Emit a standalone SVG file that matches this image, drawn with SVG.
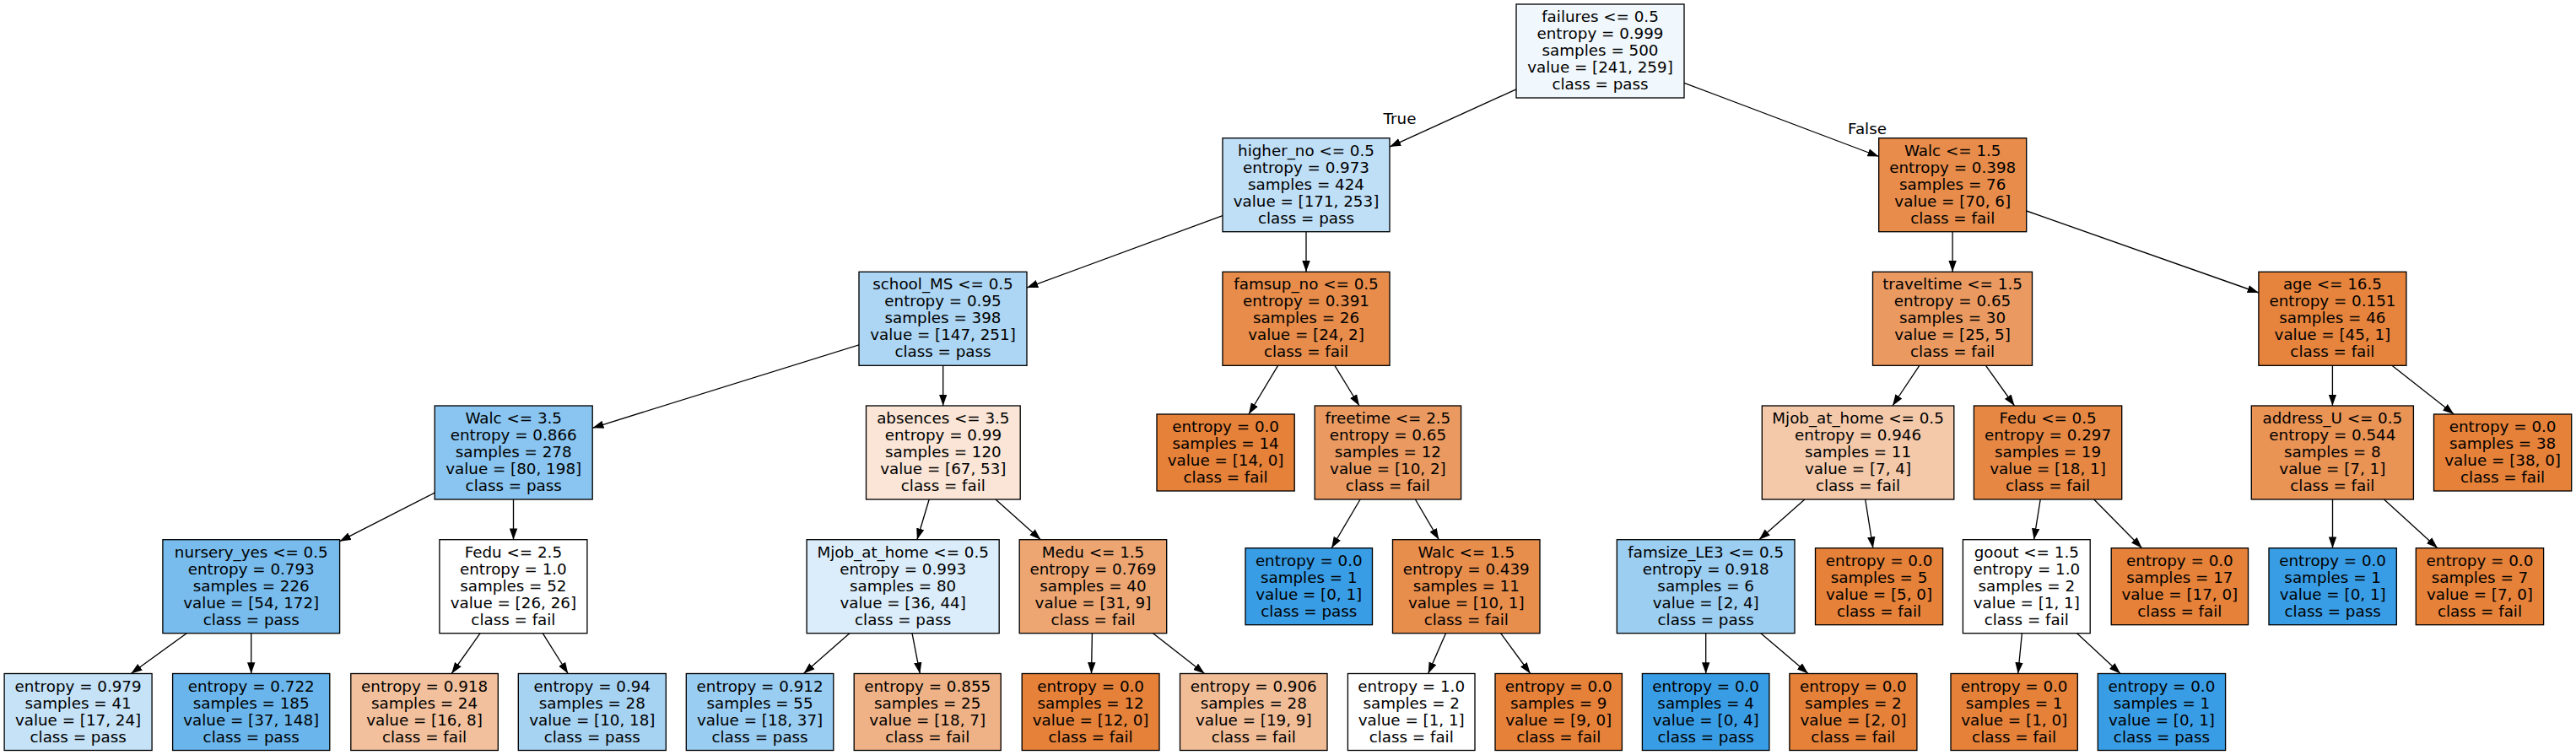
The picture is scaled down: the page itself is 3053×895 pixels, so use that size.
<svg xmlns="http://www.w3.org/2000/svg" width="3053" height="895" viewBox="0 0 3053 895">
<style>
rect{stroke:#000;stroke-width:1.33}
text{font-family:"DejaVu Sans","Liberation Sans",sans-serif;font-size:18.3px;text-anchor:middle;fill:#000}
.e line{stroke:#000;stroke-width:1.33;marker-end:url(#arr)}
</style>
<defs>
<marker id="arr" markerUnits="userSpaceOnUse" markerWidth="14" markerHeight="10" viewBox="0 -5 14 10" refX="13.3" refY="0" orient="auto"><path d="M0,-4.7 L13.3,0 L0,4.7 z" fill="#000"/></marker>
</defs>
<rect x="0" y="0" width="3053" height="895" fill="#fff" style="stroke:none"/>
<g class="e" id="edges">
<line x1="1797" y1="105.8" x2="1647" y2="174.1"/>
<line x1="1996" y1="98.3" x2="2226.7" y2="185.5"/>
<line x1="1449" y1="255.7" x2="1217" y2="341.1"/>
<line x1="1548" y1="274.7" x2="1548" y2="322.3"/>
<line x1="1018.1" y1="408.8" x2="702.2" y2="507.3"/>
<line x1="1117.7" y1="433.3" x2="1117.7" y2="481"/>
<line x1="515.2" y1="584.2" x2="402.6" y2="641.7"/>
<line x1="608.5" y1="592" x2="608.5" y2="639.7"/>
<line x1="221.2" y1="750.7" x2="155.3" y2="798.5"/>
<line x1="297.7" y1="750.7" x2="297.7" y2="798.5"/>
<line x1="569.1" y1="750.7" x2="535.2" y2="798.5"/>
<line x1="643.2" y1="750.7" x2="673.2" y2="798.5"/>
<line x1="1101.2" y1="592" x2="1086.9" y2="639.7"/>
<line x1="1180" y1="592" x2="1233.4" y2="639.7"/>
<line x1="1006.9" y1="750.7" x2="952.4" y2="798.5"/>
<line x1="1081" y1="750.7" x2="1090.3" y2="798.5"/>
<line x1="1294.4" y1="750.7" x2="1293.5" y2="798.5"/>
<line x1="1366.5" y1="750.7" x2="1427.6" y2="798.5"/>
<line x1="1514.6" y1="433.3" x2="1480" y2="491"/>
<line x1="1581.9" y1="433.3" x2="1611" y2="481"/>
<line x1="1612.1" y1="592" x2="1578.1" y2="649.7"/>
<line x1="1677.4" y1="592" x2="1705.3" y2="639.7"/>
<line x1="1713.5" y1="750.7" x2="1692.6" y2="798.5"/>
<line x1="1778.6" y1="750.7" x2="1813.7" y2="798.5"/>
<line x1="2314.1" y1="274.7" x2="2314.1" y2="322.3"/>
<line x1="2401.7" y1="250" x2="2676.9" y2="347"/>
<line x1="2274.8" y1="433.3" x2="2243" y2="481"/>
<line x1="2353.5" y1="433.3" x2="2387.5" y2="481"/>
<line x1="2138.9" y1="592" x2="2084.8" y2="639.7"/>
<line x1="2210.7" y1="592" x2="2219.8" y2="649.7"/>
<line x1="2021.7" y1="750.7" x2="2021.7" y2="798.5"/>
<line x1="2086.9" y1="750.7" x2="2143" y2="798.5"/>
<line x1="2418.2" y1="592" x2="2410.6" y2="639.7"/>
<line x1="2481.7" y1="592" x2="2538.6" y2="649.7"/>
<line x1="2396.4" y1="750.7" x2="2391.7" y2="798.5"/>
<line x1="2461.6" y1="750.7" x2="2513" y2="798.5"/>
<line x1="2764.4" y1="433.3" x2="2764.4" y2="481"/>
<line x1="2834.9" y1="433.3" x2="2908.3" y2="491"/>
<line x1="2764.5" y1="592" x2="2764.5" y2="649.7"/>
<line x1="2825.5" y1="592" x2="2888.9" y2="649.7"/>
<text x="1659" y="147">True</text>
<text x="2213" y="159">False</text>
</g>
<g id="n0"><rect x="1797" y="5" width="199" height="111" fill="#f1f8fd"/><text y="26"><tspan x="1896.5">failures &lt;= 0.5</tspan><tspan x="1896.5" dy="20">entropy = 0.999</tspan><tspan x="1896.5" dy="20">samples = 500</tspan><tspan x="1896.5" dy="20">value = [241, 259]</tspan><tspan x="1896.5" dy="20">class = pass</tspan></text></g>
<g id="n1"><rect x="1449" y="163.7" width="198" height="111" fill="#bfdff7"/><text y="184.7"><tspan x="1548">higher_no &lt;= 0.5</tspan><tspan x="1548" dy="20">entropy = 0.973</tspan><tspan x="1548" dy="20">samples = 424</tspan><tspan x="1548" dy="20">value = [171, 253]</tspan><tspan x="1548" dy="20">class = pass</tspan></text></g>
<g id="n2"><rect x="1018" y="322.3" width="199" height="111" fill="#add6f4"/><text y="343.3"><tspan x="1117.5">school_MS &lt;= 0.5</tspan><tspan x="1117.5" dy="20">entropy = 0.95</tspan><tspan x="1117.5" dy="20">samples = 398</tspan><tspan x="1117.5" dy="20">value = [147, 251]</tspan><tspan x="1117.5" dy="20">class = pass</tspan></text></g>
<g id="n3"><rect x="515.2" y="481" width="187" height="111" fill="#89c5f0"/><text y="502"><tspan x="608.7">Walc &lt;= 3.5</tspan><tspan x="608.7" dy="20">entropy = 0.866</tspan><tspan x="608.7" dy="20">samples = 278</tspan><tspan x="608.7" dy="20">value = [80, 198]</tspan><tspan x="608.7" dy="20">class = pass</tspan></text></g>
<g id="n4"><rect x="192.9" y="639.7" width="209.7" height="111" fill="#77bced"/><text y="660.7"><tspan x="297.75">nursery_yes &lt;= 0.5</tspan><tspan x="297.75" dy="20">entropy = 0.793</tspan><tspan x="297.75" dy="20">samples = 226</tspan><tspan x="297.75" dy="20">value = [54, 172]</tspan><tspan x="297.75" dy="20">class = pass</tspan></text></g>
<g id="n5"><rect x="5.1" y="798.5" width="175" height="91" fill="#c5e2f7"/><text y="819.5"><tspan x="92.6">entropy = 0.979</tspan><tspan x="92.6" dy="20">samples = 41</tspan><tspan x="92.6" dy="20">value = [17, 24]</tspan><tspan x="92.6" dy="20">class = pass</tspan></text></g>
<g id="n6"><rect x="204.6" y="798.5" width="186.2" height="91" fill="#6ab6ec"/><text y="819.5"><tspan x="297.7">entropy = 0.722</tspan><tspan x="297.7" dy="20">samples = 185</tspan><tspan x="297.7" dy="20">value = [37, 148]</tspan><tspan x="297.7" dy="20">class = pass</tspan></text></g>
<g id="n7"><rect x="520.9" y="639.7" width="175" height="111" fill="#ffffff"/><text y="660.7"><tspan x="608.4">Fedu &lt;= 2.5</tspan><tspan x="608.4" dy="20">entropy = 1.0</tspan><tspan x="608.4" dy="20">samples = 52</tspan><tspan x="608.4" dy="20">value = [26, 26]</tspan><tspan x="608.4" dy="20">class = fail</tspan></text></g>
<g id="n8"><rect x="415.8" y="798.5" width="174.5" height="91" fill="#f2c09c"/><text y="819.5"><tspan x="503.05">entropy = 0.918</tspan><tspan x="503.05" dy="20">samples = 24</tspan><tspan x="503.05" dy="20">value = [16, 8]</tspan><tspan x="503.05" dy="20">class = fail</tspan></text></g>
<g id="n9"><rect x="614.3" y="798.5" width="175" height="91" fill="#a7d3f3"/><text y="819.5"><tspan x="701.8">entropy = 0.94</tspan><tspan x="701.8" dy="20">samples = 28</tspan><tspan x="701.8" dy="20">value = [10, 18]</tspan><tspan x="701.8" dy="20">class = pass</tspan></text></g>
<g id="n10"><rect x="1026.5" y="481" width="182.7" height="111" fill="#fae5d6"/><text y="502"><tspan x="1117.85">absences &lt;= 3.5</tspan><tspan x="1117.85" dy="20">entropy = 0.99</tspan><tspan x="1117.85" dy="20">samples = 120</tspan><tspan x="1117.85" dy="20">value = [67, 53]</tspan><tspan x="1117.85" dy="20">class = fail</tspan></text></g>
<g id="n11"><rect x="956.1" y="639.7" width="228.1" height="111" fill="#dbedfa"/><text y="660.7"><tspan x="1070.15">Mjob_at_home &lt;= 0.5</tspan><tspan x="1070.15" dy="20">entropy = 0.993</tspan><tspan x="1070.15" dy="20">samples = 80</tspan><tspan x="1070.15" dy="20">value = [36, 44]</tspan><tspan x="1070.15" dy="20">class = pass</tspan></text></g>
<g id="n12"><rect x="813.3" y="798.5" width="174.5" height="91" fill="#99cdf2"/><text y="819.5"><tspan x="900.55">entropy = 0.912</tspan><tspan x="900.55" dy="20">samples = 55</tspan><tspan x="900.55" dy="20">value = [18, 37]</tspan><tspan x="900.55" dy="20">class = pass</tspan></text></g>
<g id="n13"><rect x="1012.2" y="798.5" width="174" height="91" fill="#efb286"/><text y="819.5"><tspan x="1099.2">entropy = 0.855</tspan><tspan x="1099.2" dy="20">samples = 25</tspan><tspan x="1099.2" dy="20">value = [18, 7]</tspan><tspan x="1099.2" dy="20">class = fail</tspan></text></g>
<g id="n14"><rect x="1208.2" y="639.7" width="174.5" height="111" fill="#eda672"/><text y="660.7"><tspan x="1295.45">Medu &lt;= 1.5</tspan><tspan x="1295.45" dy="20">entropy = 0.769</tspan><tspan x="1295.45" dy="20">samples = 40</tspan><tspan x="1295.45" dy="20">value = [31, 9]</tspan><tspan x="1295.45" dy="20">class = fail</tspan></text></g>
<g id="n15"><rect x="1211.2" y="798.5" width="162.8" height="91" fill="#e58139"/><text y="819.5"><tspan x="1292.6">entropy = 0.0</tspan><tspan x="1292.6" dy="20">samples = 12</tspan><tspan x="1292.6" dy="20">value = [12, 0]</tspan><tspan x="1292.6" dy="20">class = fail</tspan></text></g>
<g id="n16"><rect x="1398.5" y="798.5" width="174.5" height="91" fill="#f1bd97"/><text y="819.5"><tspan x="1485.75">entropy = 0.906</tspan><tspan x="1485.75" dy="20">samples = 28</tspan><tspan x="1485.75" dy="20">value = [19, 9]</tspan><tspan x="1485.75" dy="20">class = fail</tspan></text></g>
<g id="n17"><rect x="1449" y="322.3" width="198" height="111" fill="#e78c4a"/><text y="343.3"><tspan x="1548">famsup_no &lt;= 0.5</tspan><tspan x="1548" dy="20">entropy = 0.391</tspan><tspan x="1548" dy="20">samples = 26</tspan><tspan x="1548" dy="20">value = [24, 2]</tspan><tspan x="1548" dy="20">class = fail</tspan></text></g>
<g id="n18"><rect x="1371" y="491" width="163.2" height="91" fill="#e58139"/><text y="512"><tspan x="1452.6">entropy = 0.0</tspan><tspan x="1452.6" dy="20">samples = 14</tspan><tspan x="1452.6" dy="20">value = [14, 0]</tspan><tspan x="1452.6" dy="20">class = fail</tspan></text></g>
<g id="n19"><rect x="1558.2" y="481" width="173.4" height="111" fill="#ea9a61"/><text y="502"><tspan x="1644.9">freetime &lt;= 2.5</tspan><tspan x="1644.9" dy="20">entropy = 0.65</tspan><tspan x="1644.9" dy="20">samples = 12</tspan><tspan x="1644.9" dy="20">value = [10, 2]</tspan><tspan x="1644.9" dy="20">class = fail</tspan></text></g>
<g id="n20"><rect x="1476" y="649.7" width="150.5" height="91" fill="#399de5"/><text y="670.7"><tspan x="1551.25">entropy = 0.0</tspan><tspan x="1551.25" dy="20">samples = 1</tspan><tspan x="1551.25" dy="20">value = [0, 1]</tspan><tspan x="1551.25" dy="20">class = pass</tspan></text></g>
<g id="n21"><rect x="1650.5" y="639.7" width="174.5" height="111" fill="#e88e4d"/><text y="660.7"><tspan x="1737.75">Walc &lt;= 1.5</tspan><tspan x="1737.75" dy="20">entropy = 0.439</tspan><tspan x="1737.75" dy="20">samples = 11</tspan><tspan x="1737.75" dy="20">value = [10, 1]</tspan><tspan x="1737.75" dy="20">class = fail</tspan></text></g>
<g id="n22"><rect x="1597.4" y="798.5" width="150.6" height="91" fill="#ffffff"/><text y="819.5"><tspan x="1672.7">entropy = 1.0</tspan><tspan x="1672.7" dy="20">samples = 2</tspan><tspan x="1672.7" dy="20">value = [1, 1]</tspan><tspan x="1672.7" dy="20">class = fail</tspan></text></g>
<g id="n23"><rect x="1772" y="798.5" width="150.4" height="91" fill="#e58139"/><text y="819.5"><tspan x="1847.2">entropy = 0.0</tspan><tspan x="1847.2" dy="20">samples = 9</tspan><tspan x="1847.2" dy="20">value = [9, 0]</tspan><tspan x="1847.2" dy="20">class = fail</tspan></text></g>
<g id="n24"><rect x="2226.7" y="163.7" width="175" height="111" fill="#e78c4a"/><text y="184.7"><tspan x="2314.2">Walc &lt;= 1.5</tspan><tspan x="2314.2" dy="20">entropy = 0.398</tspan><tspan x="2314.2" dy="20">samples = 76</tspan><tspan x="2314.2" dy="20">value = [70, 6]</tspan><tspan x="2314.2" dy="20">class = fail</tspan></text></g>
<g id="n25"><rect x="2219.5" y="322.3" width="189" height="111" fill="#ea9a61"/><text y="343.3"><tspan x="2314">traveltime &lt;= 1.5</tspan><tspan x="2314" dy="20">entropy = 0.65</tspan><tspan x="2314" dy="20">samples = 30</tspan><tspan x="2314" dy="20">value = [25, 5]</tspan><tspan x="2314" dy="20">class = fail</tspan></text></g>
<g id="n26"><rect x="2088.3" y="481" width="227.5" height="111" fill="#f4c9aa"/><text y="502"><tspan x="2202.05">Mjob_at_home &lt;= 0.5</tspan><tspan x="2202.05" dy="20">entropy = 0.946</tspan><tspan x="2202.05" dy="20">samples = 11</tspan><tspan x="2202.05" dy="20">value = [7, 4]</tspan><tspan x="2202.05" dy="20">class = fail</tspan></text></g>
<g id="n27"><rect x="1916.3" y="639.7" width="210.7" height="111" fill="#9ccef2"/><text y="660.7"><tspan x="2021.65">famsize_LE3 &lt;= 0.5</tspan><tspan x="2021.65" dy="20">entropy = 0.918</tspan><tspan x="2021.65" dy="20">samples = 6</tspan><tspan x="2021.65" dy="20">value = [2, 4]</tspan><tspan x="2021.65" dy="20">class = pass</tspan></text></g>
<g id="n28"><rect x="1946.4" y="798.5" width="150.5" height="91" fill="#399de5"/><text y="819.5"><tspan x="2021.65">entropy = 0.0</tspan><tspan x="2021.65" dy="20">samples = 4</tspan><tspan x="2021.65" dy="20">value = [0, 4]</tspan><tspan x="2021.65" dy="20">class = pass</tspan></text></g>
<g id="n29"><rect x="2120.9" y="798.5" width="151" height="91" fill="#e58139"/><text y="819.5"><tspan x="2196.4">entropy = 0.0</tspan><tspan x="2196.4" dy="20">samples = 2</tspan><tspan x="2196.4" dy="20">value = [2, 0]</tspan><tspan x="2196.4" dy="20">class = fail</tspan></text></g>
<g id="n30"><rect x="2151.5" y="649.7" width="151.1" height="91" fill="#e58139"/><text y="670.7"><tspan x="2227.05">entropy = 0.0</tspan><tspan x="2227.05" dy="20">samples = 5</tspan><tspan x="2227.05" dy="20">value = [5, 0]</tspan><tspan x="2227.05" dy="20">class = fail</tspan></text></g>
<g id="n31"><rect x="2339.4" y="481" width="175.3" height="111" fill="#e68844"/><text y="502"><tspan x="2427.05">Fedu &lt;= 0.5</tspan><tspan x="2427.05" dy="20">entropy = 0.297</tspan><tspan x="2427.05" dy="20">samples = 19</tspan><tspan x="2427.05" dy="20">value = [18, 1]</tspan><tspan x="2427.05" dy="20">class = fail</tspan></text></g>
<g id="n32"><rect x="2326.4" y="639.7" width="150.8" height="111" fill="#ffffff"/><text y="660.7"><tspan x="2401.8">goout &lt;= 1.5</tspan><tspan x="2401.8" dy="20">entropy = 1.0</tspan><tspan x="2401.8" dy="20">samples = 2</tspan><tspan x="2401.8" dy="20">value = [1, 1]</tspan><tspan x="2401.8" dy="20">class = fail</tspan></text></g>
<g id="n33"><rect x="2312" y="798.5" width="150.3" height="91" fill="#e58139"/><text y="819.5"><tspan x="2387.15">entropy = 0.0</tspan><tspan x="2387.15" dy="20">samples = 1</tspan><tspan x="2387.15" dy="20">value = [1, 0]</tspan><tspan x="2387.15" dy="20">class = fail</tspan></text></g>
<g id="n34"><rect x="2486.3" y="798.5" width="151.3" height="91" fill="#399de5"/><text y="819.5"><tspan x="2561.95">entropy = 0.0</tspan><tspan x="2561.95" dy="20">samples = 1</tspan><tspan x="2561.95" dy="20">value = [0, 1]</tspan><tspan x="2561.95" dy="20">class = pass</tspan></text></g>
<g id="n35"><rect x="2502.2" y="649.7" width="162.3" height="91" fill="#e58139"/><text y="670.7"><tspan x="2583.35">entropy = 0.0</tspan><tspan x="2583.35" dy="20">samples = 17</tspan><tspan x="2583.35" dy="20">value = [17, 0]</tspan><tspan x="2583.35" dy="20">class = fail</tspan></text></g>
<g id="n36"><rect x="2676.9" y="322.3" width="175" height="111" fill="#e6843d"/><text y="343.3"><tspan x="2764.4">age &lt;= 16.5</tspan><tspan x="2764.4" dy="20">entropy = 0.151</tspan><tspan x="2764.4" dy="20">samples = 46</tspan><tspan x="2764.4" dy="20">value = [45, 1]</tspan><tspan x="2764.4" dy="20">class = fail</tspan></text></g>
<g id="n37"><rect x="2668.3" y="481" width="192.1" height="111" fill="#e99355"/><text y="502"><tspan x="2764.35">address_U &lt;= 0.5</tspan><tspan x="2764.35" dy="20">entropy = 0.544</tspan><tspan x="2764.35" dy="20">samples = 8</tspan><tspan x="2764.35" dy="20">value = [7, 1]</tspan><tspan x="2764.35" dy="20">class = fail</tspan></text></g>
<g id="n38"><rect x="2689" y="649.7" width="151.3" height="91" fill="#399de5"/><text y="670.7"><tspan x="2764.65">entropy = 0.0</tspan><tspan x="2764.65" dy="20">samples = 1</tspan><tspan x="2764.65" dy="20">value = [0, 1]</tspan><tspan x="2764.65" dy="20">class = pass</tspan></text></g>
<g id="n39"><rect x="2863.3" y="649.7" width="151.3" height="91" fill="#e58139"/><text y="670.7"><tspan x="2938.95">entropy = 0.0</tspan><tspan x="2938.95" dy="20">samples = 7</tspan><tspan x="2938.95" dy="20">value = [7, 0]</tspan><tspan x="2938.95" dy="20">class = fail</tspan></text></g>
<g id="n40"><rect x="2884.5" y="491" width="163.2" height="91" fill="#e58139"/><text y="512"><tspan x="2966.1">entropy = 0.0</tspan><tspan x="2966.1" dy="20">samples = 38</tspan><tspan x="2966.1" dy="20">value = [38, 0]</tspan><tspan x="2966.1" dy="20">class = fail</tspan></text></g>
</svg>
